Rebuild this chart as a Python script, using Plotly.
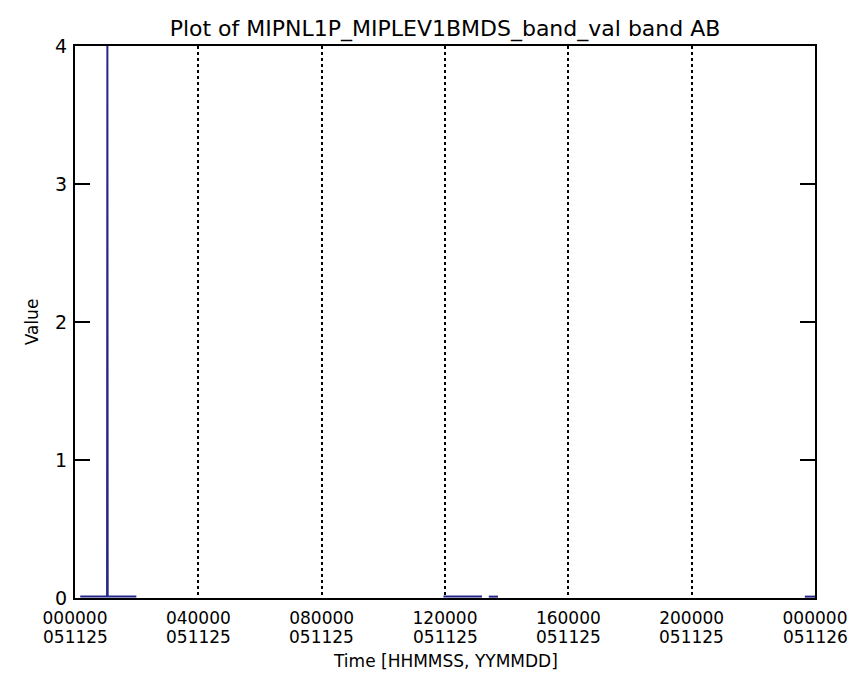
import plotly.graph_objects as go

# time in hours since 000000 051125, None breaks the line between data gaps
hours = [0.17, 0.6, 1.04, 1.05, 1.06, 1.5, 1.99, None,
         11.95, 12.6, 13.2, None,
         13.42, 13.72, None,
         23.67, 24.0]
values = [0.01, 0.01, 0.01, 4.0, 0.01, 0.01, 0.01, None,
          0.01, 0.01, 0.01, None,
          0.01, 0.01, None,
          0.01, 0.01]

tick_hours = [0, 4, 8, 12, 16, 20, 24]
tick_times = ["000000", "040000", "080000", "120000", "160000", "200000", "000000"]
tick_dates = ["051125", "051125", "051125", "051125", "051125", "051125", "051126"]
y_ticks = [0, 1, 2, 3, 4]

fig = go.Figure(go.Scatter(
    x=hours, y=values, mode="lines",
    line=dict(color="#25258a", width=2),
    connectgaps=False, hoverinfo="x+y",
))

font = "DejaVu Sans, Liberation Sans, sans-serif"

fig.update_layout(
    width=857, height=675,
    paper_bgcolor="white", plot_bgcolor="white",
    margin=dict(l=67, r=50, t=38, b=85),
    font=dict(family=font, size=19, color="black"),
    showlegend=False,
    title=dict(text="Plot of MIPNL1P_MIPLEV1BMDS_band_val band AB",
               x=0.5, xref="paper", y=1 - 20 / 675, yref="container",
               xanchor="center", yanchor="middle",
               font=dict(size=22)),
)

# second row of the time labels (date) under the HHMMSS row
for h, d in zip(tick_hours, tick_dates):
    fig.add_annotation(text=d, x=h, xref="x", y=0, yref="paper",
                       yshift=-39, showarrow=False,
                       xanchor="center", yanchor="middle",
                       font=dict(size=17))

fig.add_annotation(
    text="Time [HHMMSS, YYMMDD]", xref="paper", yref="paper",
    x=0.5, y=0, yshift=-63, showarrow=False,
    xanchor="center", yanchor="middle", font=dict(size=17),
)

fig.update_xaxes(
    range=[0, 24], tickvals=tick_hours, ticktext=tick_times,
    tickfont=dict(size=17),
    showline=True, linecolor="black", linewidth=2, mirror=True,
    showgrid=True, gridcolor="black", griddash="3px,3px", gridwidth=2,
    ticks="", zeroline=False, ticklabelstandoff=4,
)

fig.update_yaxes(
    range=[0, 4], tickvals=y_ticks,
    showline=True, linecolor="black", linewidth=2, mirror="ticks",
    showgrid=False, zeroline=False,
    ticks="inside", ticklen=15, tickcolor="black", tickwidth=1.5,
    ticklabelstandoff=2,
    title=dict(text="Value", standoff=12, font=dict(size=17)),
)

fig.write_html("out.html")
